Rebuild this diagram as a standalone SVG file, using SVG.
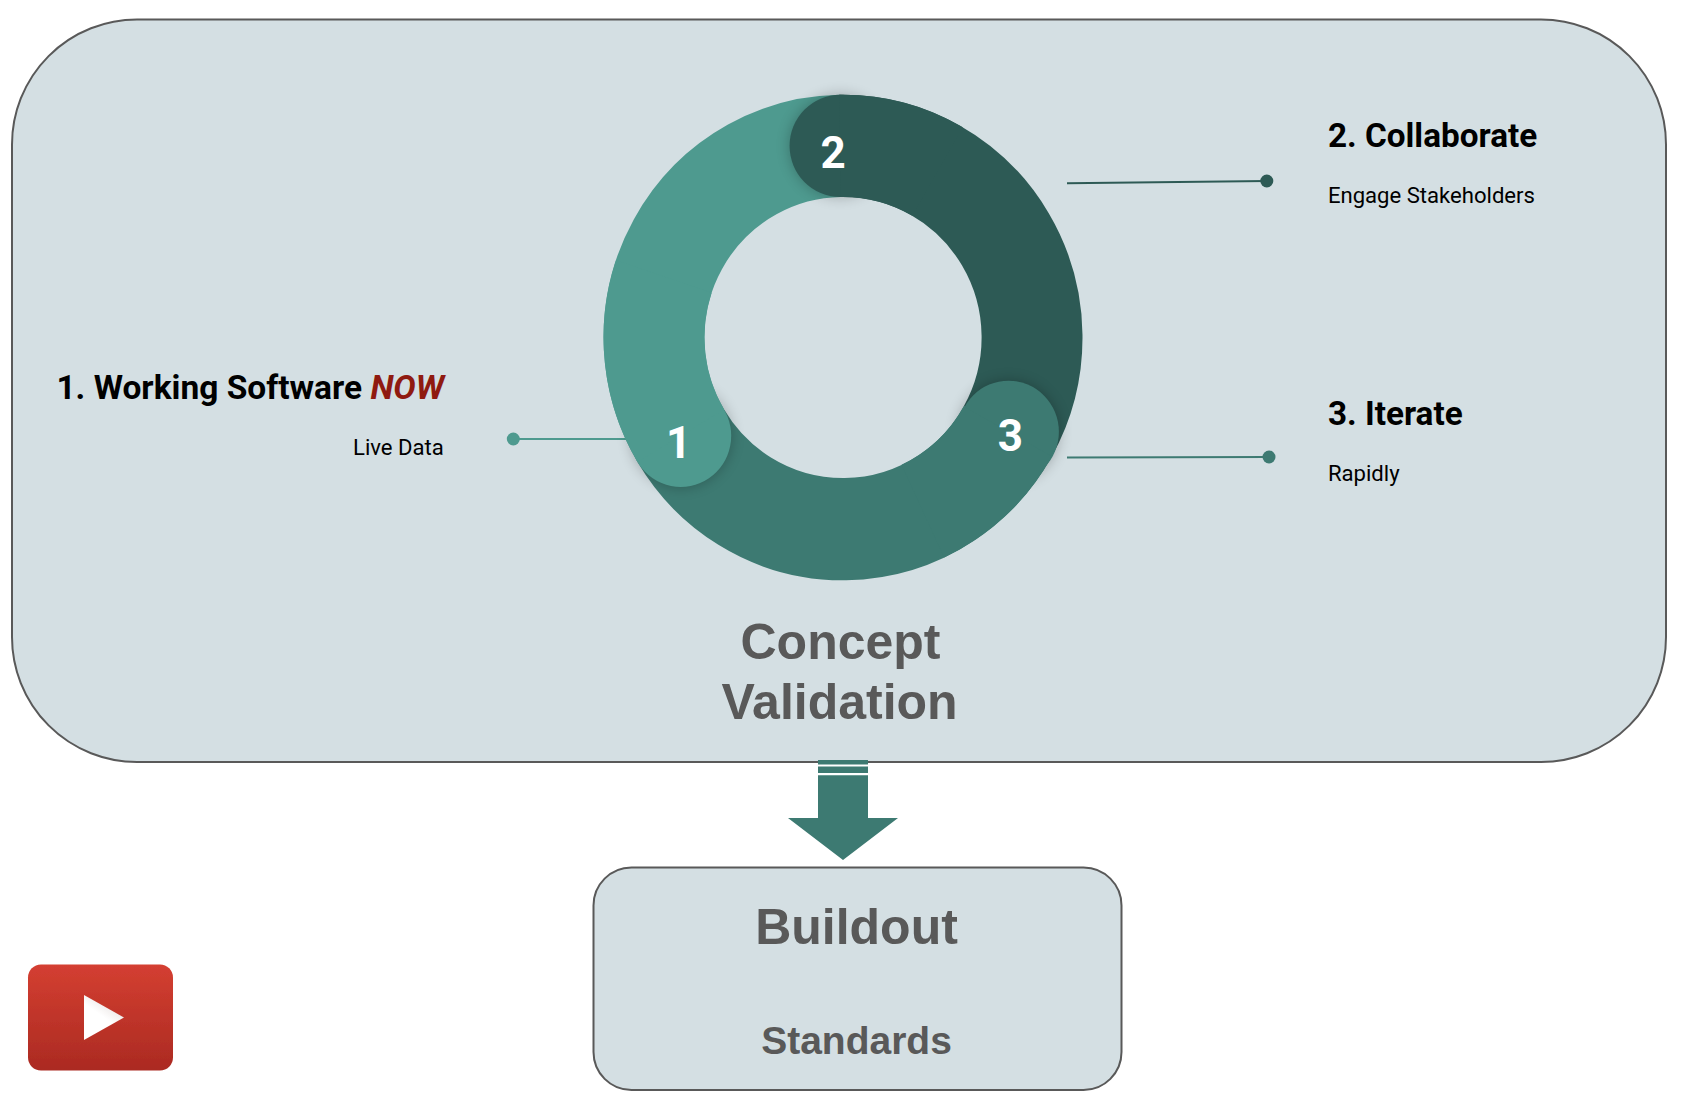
<svg xmlns="http://www.w3.org/2000/svg" width="1692" height="1106" viewBox="0 0 1692 1106">
<style>
.panel{fill:#d4dfe3;stroke:#595959;stroke-width:2}
.head{font-family:"Liberation Sans",Arial,sans-serif;font-weight:700;fill:#595959;text-anchor:middle}
.t{font-family:Roboto,"Liberation Sans",sans-serif;font-weight:700;font-size:33.300px;fill:#000}
.s{font-family:Roboto,"Liberation Sans",sans-serif;font-size:22.100px;fill:#000}
.n{font-family:Roboto,"Liberation Sans",sans-serif;font-weight:700;font-size:44px;fill:#fff;text-anchor:middle}
.arc{fill:none;stroke-width:100.900}
</style>
<defs>
<filter id="sh" x="-40%" y="-40%" width="180%" height="180%"><feGaussianBlur stdDeviation="7"/></filter>
<filter id="soft" x="-5%" y="-5%" width="110%" height="110%"><feGaussianBlur stdDeviation="0.700"/></filter>
<linearGradient id="yt" x1="0" y1="0" x2="0" y2="1"><stop offset="0" stop-color="#d43f31"/><stop offset="1" stop-color="#ab2a22"/></linearGradient>
<linearGradient id="play" x1="0.750" y1="0.100" x2="0.500" y2="0.500"><stop offset="0" stop-color="#9c8f8c"/><stop offset="0.500" stop-color="#f2efee"/><stop offset="1" stop-color="#fff"/></linearGradient>
</defs>
<g id="concept-validation">
<rect class="panel" x="12" y="19.500" width="1654" height="742.500" rx="125" ry="125"/>
<text class="head" font-size="50" x="840.500" y="658.600">Concept</text>
<text class="head" font-size="50" x="839.600" y="718.600">Validation</text>
</g>
<g id="connectors" fill="none" stroke-width="2">
<path d="M627 439H513" stroke="#4e9a8f"/>
<path d="M1067 183.300L1266.800 181" stroke="#2d5a55"/>
<path d="M1067 457.500L1269 457" stroke="#3d7a72"/>
<circle cx="513.300" cy="439" r="6.500" fill="#4e9a8f"/>
<circle cx="1266.800" cy="181" r="6.500" fill="#2d5a55"/>
<circle cx="1269" cy="457" r="6.500" fill="#3d7a72"/>
</g>
<g id="ring" transform="translate(843 337.500) scale(1 1.014)">
<path class="arc" stroke="#4e9a8f" d="M-162.200 97A189 189 0 0 1 -3 -189"/>
<path class="arc" stroke="#2d5a55" d="M-3 -189A189 189 0 0 1 164.800 92.600"/>
<path class="arc" stroke="#3d7a72" d="M164.800 92.600A189 189 0 0 1 -162.200 97"/>
<circle cx="-3" cy="-189" r="50.400" fill="#000" opacity=".25" filter="url(#sh)"/>
<circle cx="165.500" cy="93" r="50.400" fill="#000" opacity=".25" filter="url(#sh)"/>
<circle cx="-162.200" cy="97" r="50.400" fill="#000" opacity=".25" filter="url(#sh)"/>
<circle cx="-3" cy="-189" r="50.400" fill="#2d5a55"/>
<circle cx="165.500" cy="93" r="50.400" fill="#3d7a72"/>
<circle cx="-162.200" cy="97" r="50.400" fill="#4e9a8f"/>
<path class="arc" stroke="#2d5a55" d="M-3 -189A189 189 0 0 1 94.500 -163.680"/>
<path class="arc" stroke="#3d7a72" d="M164.800 92.600A189 189 0 0 1 79.880 171.290"/>
<path class="arc" stroke="#4e9a8f" d="M-162.200 97A189 189 0 0 1 -179.160 -60.210"/>
</g>
<g id="step-1">
<text class="n" x="678.700" y="457.700">1</text>
<text class="t" x="56.400" y="398.800" style="font-size:33.500px">1. Working Software <tspan fill="#8f1a10" font-style="italic">NOW</tspan></text>
<text class="s" x="443.800" y="454.700" text-anchor="end">Live Data</text>
</g>
<g id="step-2">
<text class="n" x="833" y="167.800">2</text>
<text class="t" x="1327.900" y="147">2. Collaborate</text>
<text class="s" x="1327.900" y="203">Engage Stakeholders</text>
</g>
<g id="step-3">
<text class="n" x="1010.400" y="451">3</text>
<text class="t" x="1327.900" y="425.200">3. Iterate</text>
<text class="s" x="1327.900" y="480.800">Rapidly</text>
</g>
<g id="arrow">
<path d="M818 760H868V818H898L843 860L788 818H818Z" fill="#3d7a72"/>
<path d="M818 765.500H868M818 774.200H868" stroke="#fff" stroke-width="2.200" fill="none"/>
</g>
<g id="buildout">
<rect class="panel" x="593.500" y="867.500" width="528" height="222.500" rx="38" ry="38"/>
<text class="head" font-size="50" x="856.500" y="943.500">Buildout</text>
<text class="head" font-size="39" x="856.500" y="1054.400">Standards</text>
</g>
<g id="youtube" filter="url(#soft)">
<rect x="28" y="964.500" width="145" height="106" rx="13" fill="url(#yt)"/>
<path d="M84 995L124 1017.500L84 1040Z" fill="url(#play)"/>
</g>
</svg>
